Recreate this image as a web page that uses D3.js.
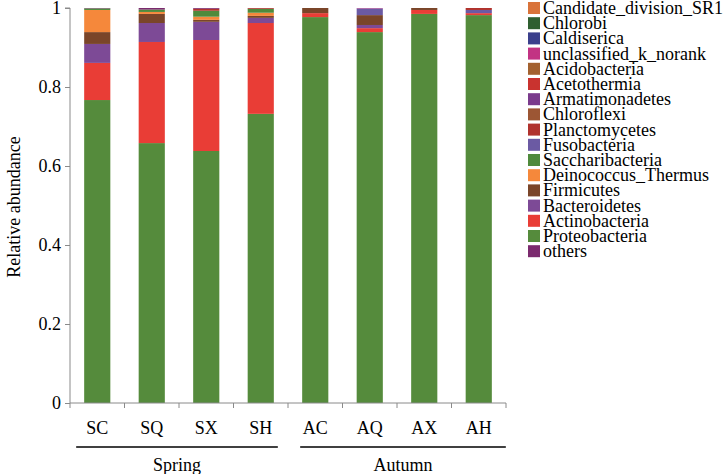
<!DOCTYPE html>
<html><head><meta charset="utf-8">
<script src="https://cdn.jsdelivr.net/npm/d3@7/dist/d3.min.js"></script>
<style>body{margin:0;background:#fff}svg{display:block}</style>
</head><body><svg id="c" width="726" height="474"></svg>
<script>
const categories = ["SC","SQ","SX","SH","AC","AQ","AX","AH"];
const groups = [{name:"Spring", from:0, to:3},{name:"Autumn", from:4, to:7}];
const yTicks = [0,0.2,0.4,0.6,0.8,1];
const yTickLabels = ["0","0.2","0.4","0.6","0.8","1"];
// legend order (top to bottom)
const legendNames = ["Candidate_division_SR1","Chlorobi","Caldiserica","unclassified_k_norank","Acidobacteria","Acetothermia","Armatimonadetes","Chloroflexi","Planctomycetes","Fusobacteria","Saccharibacteria","Deinococcus_Thermus","Firmicutes","Bacteroidetes","Actinobacteria","Proteobacteria","others"];
const legendColors = ["#d9733a","#2f5f30","#3b3f8c","#c23383","#a3612f","#c9332f","#7a3b8c","#9c5634","#b0322d","#6b5aa3","#4f8a3c","#f5883b","#7a4529","#7d4a96","#e93d36","#558b3c","#7b2a6e"];
// values per category (SC,SQ,SX,SH,AC,AQ,AX,AH)
const Proteobacteria   = [0.767,0.658,0.638,0.732,0.977,0.939,0.985,0.982];
const Actinobacteria   = [0.094,0.256,0.281,0.230,0.010,0.010,0.010,0.005];
const Bacteroidetes    = [0.048,0.048,0.046,0.013,0,0.008,0,0];
const Firmicutes       = [0.030,0.023,0.005,0.005,0.013,0.025,0.005,0];
const Deinococcus_Thermus = [0.056,0.005,0.008,0.008,0,0,0,0];
const Saccharibacteria = [0.004,0.006,0.015,0.010,0,0,0,0];
const Fusobacteria     = [0,0,0,0,0,0.017,0,0.008];
const Planctomycetes   = [0,0,0.005,0.002,0,0,0,0.005];
const unclassified_k_norank = [0,0,0,0,0,0.001,0,0];
const others           = [0.001,0.004,0.002,0,0,0,0,0];

const stackOrder = [
  ["Proteobacteria",Proteobacteria],["Actinobacteria",Actinobacteria],["Bacteroidetes",Bacteroidetes],
  ["Firmicutes",Firmicutes],["Deinococcus_Thermus",Deinococcus_Thermus],["Saccharibacteria",Saccharibacteria],
  ["Fusobacteria",Fusobacteria],["Planctomycetes",Planctomycetes],["unclassified_k_norank",unclassified_k_norank],["others",others]
];
const colorOf = d3.scaleOrdinal(legendNames, legendColors);
const FONT = '"Liberation Serif"';
const FS = "18px";

const svg = d3.select("#c");
const L=70, R=506, T=8, B=403;
const x = d3.scaleBand().domain(categories).range([L,R]).paddingInner(0.52).paddingOuter(0.26);
const y = d3.scaleLinear().domain([0,1]).range([B,T]);

const rows = categories.map((c,i)=>{const o={cat:c}; stackOrder.forEach(([n,a])=>o[n]=a[i]); return o;});
const series = d3.stack().keys(stackOrder.map(s=>s[0]))(rows);
svg.append("g").selectAll("g").data(series).join("g").attr("fill",d=>colorOf(d.key))
  .selectAll("rect").data(d=>d).join("rect")
  .attr("x",d=>x(d.data.cat)).attr("width",x.bandwidth())
  .attr("y",d=>y(d[1])).attr("height",d=>Math.max(0,y(d[0])-y(d[1])));

// y axis
const ya = svg.append("g").attr("transform",`translate(${L},0)`)
  .call(d3.axisLeft(y).tickValues(yTicks).tickFormat((d,i)=>yTickLabels[i]).tickSize(5).tickPadding(4));
ya.select(".domain").attr("stroke","#8a8a8a").attr("d",`M-5,${T}H0V${B}`);
ya.selectAll(".tick line").attr("stroke","#8a8a8a");
ya.selectAll("text").attr("fill","#000").style("font-family",FONT).style("font-size",FS);

// x axis
const xa = svg.append("g").attr("transform",`translate(0,${B})`);
xa.append("line").attr("x1",L).attr("x2",R).attr("stroke","#8a8a8a");
const bounds = d3.range(categories.length+1).map(i=>L+i*(R-L)/categories.length);
xa.selectAll("line.tk").data(bounds).join("line").attr("class","tk")
  .attr("x1",d=>d).attr("x2",d=>d).attr("y1",0).attr("y2",5).attr("stroke","#8a8a8a");
xa.selectAll("text").data(categories).join("text")
  .attr("x",d=>x(d)+x.bandwidth()/2).attr("y",31).attr("text-anchor","middle")
  .style("font-family",FONT).style("font-size",FS).text(d=>d);

// groups (underline + label)
const groupPad = [[-8,4],[-2,14]];
groups.forEach((g,gi)=>{
  const x0 = x(categories[g.from]) + groupPad[gi][0];
  const x1 = x(categories[g.to]) + x.bandwidth() + groupPad[gi][1];
  svg.append("line").attr("x1",x0).attr("x2",x1).attr("y1",447).attr("y2",447).attr("stroke","#000").attr("stroke-width",1.5);
  svg.append("text").attr("x",(x0+x1)/2).attr("y",471).attr("text-anchor","middle")
    .style("font-family",FONT).style("font-size",FS).text(g.name);
});

// y label
svg.append("text").attr("transform","translate(20,207) rotate(-90)").attr("text-anchor","middle")
  .style("font-family",FONT).style("font-size",FS).text("Relative abundance");

// legend
const lg = svg.append("g").attr("transform","translate(528,8)");
const it = lg.selectAll("g").data(legendNames).join("g").attr("transform",(d,i)=>`translate(0,${i*15.2})`);
it.append("rect").attr("width",12).attr("height",12).attr("y",-6).attr("fill",d=>colorOf(d));
it.append("text").attr("x",15).attr("y",6).style("font-family",FONT).style("font-size",FS).text(d=>d);
</script></body></html>
